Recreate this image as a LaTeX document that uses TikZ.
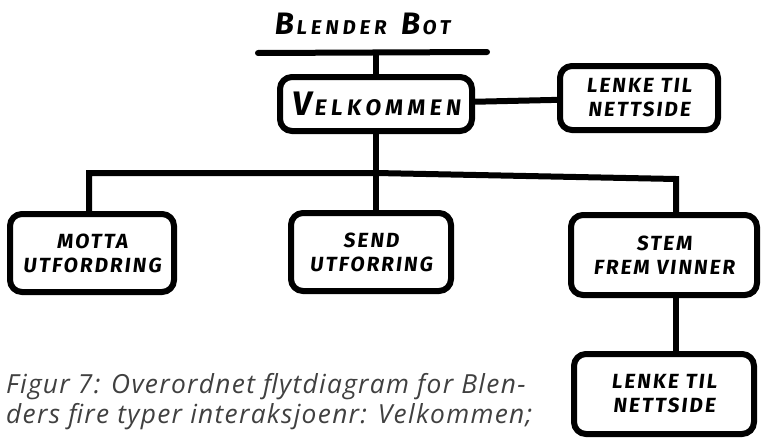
\documentclass[tikz,border=0pt]{standalone}
\usepackage{fontspec}
\newfontfamily\handfont{Fira Sans}[FakeSlant=0.12, LetterSpace=10]
\newfontfamily\widehand{Fira Sans}[FakeSlant=0.12, LetterSpace=20]
\newfontfamily\capfont{Open Sans}[LetterSpace=5]
\usetikzlibrary{positioning}

% larger first letter, marker style
\newcommand{\bigfirst}[3]{{\fontsize{#1}{#1}\selectfont #2\kern3pt}#3}

\begin{document}
\begin{tikzpicture}[x=1pt, y=-1pt,
  font=\handfont\bfseries\fontsize{20.5}{24}\selectfont,
  box/.style={draw, line width=6pt, rounded corners=12pt, align=center, inner sep=2pt},
  wire/.style={line width=6pt, line cap=round},
  node distance=40pt and 60pt]
  \useasboundingbox (0,0) rectangle (764,439);

  \node[font=\widehand\bfseries\fontsize{20}{22}\selectfont] (title) at (362,24)
    {\bigfirst{31}{B}{LENDER}\hspace{14pt}\bigfirst{31}{B}{OT}};
  \coordinate (barL) at (258,53);
  \coordinate (barR) at (487,52);
  \node[box, minimum width=192pt, minimum height=54pt, font=\widehand\bfseries\fontsize{22.5}{25}\selectfont]
    (welcome) at (376,104) {\bigfirst{34}{V}{ELKOMMEN}};
  \node[box, minimum width=158pt, minimum height=64pt] (link) at (639,98) {LENKE TIL\\NETTSIDE};
  \coordinate (hub) at (376,173);

  \node[box, minimum width=164pt, minimum height=78pt] (motta) at (92,253) {MOTTA\\UTFORDRING};
  \node[box, minimum width=160pt, minimum height=78pt] (send) at (371,252) {SEND\\UTFORRING};
  \node[box, minimum width=186pt, minimum height=80pt] (vote) at (664,255) {STEM\\FREM VINNER};
  \node[box, minimum width=180pt, minimum height=80pt, below=53pt of vote] (link2) {LENKE TIL\\NETTSIDE};

  \draw[wire] (barL) -- (barR);
  \draw[wire] (welcome.north |- barL) -- (welcome.north);
  \draw[wire] (welcome) -- (link);
  \draw[wire] (welcome.south) -- (welcome.south |- send.north);
  \draw[wire] (motta.north -| 89,0) |- (hub) -- (676,179) -- (vote.north -| 676,0);
  \draw[wire] (vote.south -| 676,0) -- (link2.north -| 676,0);

  \node[anchor=base west, align=left, text=black!75, inner sep=0pt,
        font=\capfont\itshape\fontsize{26.3}{30}\selectfont] (caption) at (6,393)
    {Figur 7: Overordnet flytdiagram for Blen-};
  \node[anchor=base west, align=left, text=black!75, inner sep=0pt,
        font=\capfont\itshape\fontsize{26.3}{30}\selectfont] (caption2) at (6,423)
    {ders fire typer interaksjoenr: Velkommen;};
\end{tikzpicture}
\end{document}
